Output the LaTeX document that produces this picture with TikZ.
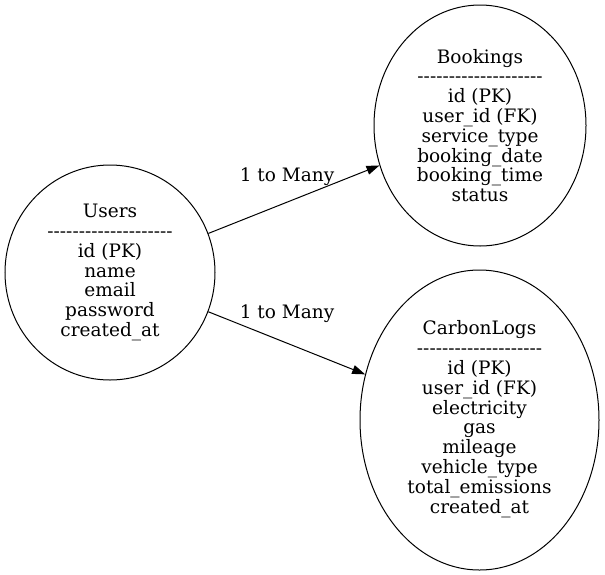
\documentclass[tikz,border=0pt]{standalone}
\usepackage{fontspec}
\setmainfont{DejaVu Serif}
\usetikzlibrary{shapes.geometric,arrows.meta}
\def\hh{-\kern0pt}
\def\hf{\hh\hh\hh\hh\hh}
\def\dashrow{\hf\hf\hf\hf}
\begin{document}
\begin{tikzpicture}[x=1pt,y=-1pt,
  ent/.style={draw,ellipse,inner sep=0pt,line width=1pt,align=center,
    font=\fontsize{18.5}{19.8}\selectfont},
  rel/.style={-{Triangle[length=13pt,width=9pt]},line width=1pt},
  lab/.style={font=\fontsize{18.5}{19.8}\selectfont,inner sep=0pt}]
\useasboundingbox (0,0) rectangle (605,574);
\node[ent,minimum width=210pt,minimum height=215pt] (users) at (110,272.5)
  {Users\\\dashrow\\id (PK)\\name\\email\\password\\created\_at};
\node[ent,minimum width=212pt,minimum height=241pt] (bookings) at (480,125.5)
  {Bookings\\\dashrow\\id (PK)\\user\_id (FK)\\service\_type\\booking\_date\\booking\_time\\status};
\node[ent,minimum width=239pt,minimum height=300pt] (carbon) at (479.5,420)
  {\raisebox{2.5pt}{\begin{tabular}{@{}c@{}}CarbonLogs\\\dashrow\\id (PK)\\user\_id (FK)\\electricity\\gas\\mileage\\vehicle\_type\\total\_emissions\\created\_at\end{tabular}}};
\draw[rel] (users) -- (bookings);
\draw[rel] (users) -- (carbon);
\node[lab] (l1) at (287,177) {1 to Many};
\node[lab] (l2) at (287,314) {1 to Many};
\end{tikzpicture}
\end{document}
